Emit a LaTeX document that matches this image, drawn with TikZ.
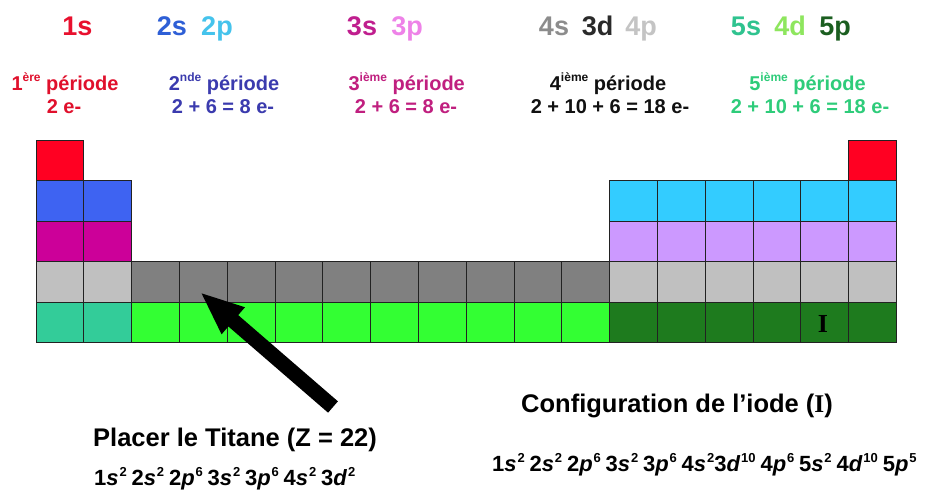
\documentclass[tikz,border=0pt]{standalone}
\usepackage{fontspec}
\setmainfont{Liberation Sans}
\newfontfamily\serifI{Liberation Serif}
\usetikzlibrary{arrows.meta}
\definecolor{cRed}{HTML}{FF0022}
\definecolor{cBlue}{HTML}{3E63F2}
\definecolor{cLBlue}{HTML}{33CCFF}
\definecolor{cMag}{HTML}{CC0099}
\definecolor{cLav}{HTML}{CC99FF}
\definecolor{cLGray}{HTML}{C0C0C0}
\definecolor{cGray}{HTML}{808080}
\definecolor{cTeal}{HTML}{33CC99}
\definecolor{cGreen}{HTML}{33FF33}
\definecolor{cDGreen}{HTML}{1E7B1E}
\definecolor{gridc}{HTML}{222222}
\definecolor{t1s}{HTML}{E8102E}
\definecolor{t2s}{HTML}{2E5FD6}
\definecolor{t2p}{HTML}{45C3EC}
\definecolor{t3s}{HTML}{C01E8E}
\definecolor{t3p}{HTML}{EE82E8}
\definecolor{t4s}{HTML}{8C8C8C}
\definecolor{t3d}{HTML}{2A2A2A}
\definecolor{t4p}{HTML}{C4C4C4}
\definecolor{t5s}{HTML}{2FC38F}
\definecolor{t4d}{HTML}{8EE65E}
\definecolor{t5p}{HTML}{1B5E20}
\definecolor{p1}{HTML}{E0102C}
\definecolor{p2}{HTML}{3B3BAE}
\definecolor{p3}{HTML}{C01F7F}
\definecolor{p4}{HTML}{111111}
\definecolor{p5}{HTML}{2ECC7A}
\newcommand\eorb[3]{#1\textit{#2}\kern0.04em\raisebox{0.4em}{\fontsize{13}{14}\selectfont #3}}
\newcommand\esp{\hspace{0.22em}}
\newcommand\psup[1]{\raisebox{0.42em}{\fontsize{12}{13}\selectfont #1}}
\begin{document}
\begin{tikzpicture}[x=1pt,y=-1pt,
  cell/.style={draw=gridc, line width=0.9pt, minimum width=47.8pt, minimum height=40.5pt, inner sep=0pt, outer sep=0pt, anchor=north west},
  orblab/.style={anchor=base, inner sep=0pt, font=\fontsize{27}{30}\selectfont\bfseries},
  perlab/.style={anchor=base, inner sep=0pt, font=\fontsize{20}{24}\selectfont\bfseries},
  bigtxt/.style={anchor=base west, inner sep=0pt, font=\fontsize{25.5}{30}\selectfont\bfseries},
  conftxt/.style={anchor=base west, inner sep=0pt, font=\fontsize{22}{26}\selectfont\bfseries}]
\useasboundingbox (0,0) rectangle (929,490);
\fill[white] (0,0) rectangle (929,490);
% row 1
\node[cell, fill=cRed] (r0-0) at (36,140) {};
\node[cell, fill=cRed] (r0-17) at ({36+47.8*17},140) {};
% row 2
\foreach \cc in {0,1} \node[cell, fill=cBlue] (r1-\cc) at ({36+47.8*\cc},{140+40.5}) {};
\foreach \cc in {12,...,17} \node[cell, fill=cLBlue] (r1-\cc) at ({36+47.8*\cc},{140+40.5}) {};
% row 3
\foreach \cc in {0,1} \node[cell, fill=cMag] (r2-\cc) at ({36+47.8*\cc},{140+81}) {};
\foreach \cc in {12,...,17} \node[cell, fill=cLav] (r2-\cc) at ({36+47.8*\cc},{140+81}) {};
% row 4
\foreach \cc in {0,1} \node[cell, fill=cLGray] (r3-\cc) at ({36+47.8*\cc},{140+121.5}) {};
\foreach \cc in {2,...,11} \node[cell, fill=cGray] (r3-\cc) at ({36+47.8*\cc},{140+121.5}) {};
\foreach \cc in {12,...,17} \node[cell, fill=cLGray] (r3-\cc) at ({36+47.8*\cc},{140+121.5}) {};
% row 5
\foreach \cc in {0,1} \node[cell, fill=cTeal] (r4-\cc) at ({36+47.8*\cc},{140+162}) {};
\foreach \cc in {2,...,11} \node[cell, fill=cGreen] (r4-\cc) at ({36+47.8*\cc},{140+162}) {};
\foreach \cc in {12,...,17} \node[cell, fill=cDGreen] (r4-\cc) at ({36+47.8*\cc},{140+162}) {};
% iodine
\node[font=\fontsize{26}{28}\selectfont\serifI\bfseries, text=black, inner sep=0pt] (iodine) at (823,324) {I};
% orbital labels
\node[orblab, text=t1s] (o1s) at (77.5,35) {1s};
\node[orblab, text=t2s] (o2s) at (172,35) {2s};
\node[orblab, text=t2p] (o2p) at (217,35) {2p};
\node[orblab, text=t3s] (o3s) at (362,35) {3s};
\node[orblab, text=t3p] (o3p) at (407,35) {3p};
\node[orblab, text=t4s] (o4s) at (554,35) {4s};
\node[orblab, text=t3d] (o3d) at (597.5,35) {3d};
\node[orblab, text=t4p] (o4p) at (641,35) {4p};
\node[orblab, text=t5s] (o5s) at (746,35) {5s};
\node[orblab, text=t4d] (o4d) at (790,35) {4d};
\node[orblab, text=t5p] (o5p) at (835,35) {5p};
% period labels
\node[perlab, text=p1] (per1) at (65,90) {1\psup{ère} période};
\node[perlab, text=p1] (ne1) at (64,113) {2 e-};
\node[perlab, text=p2] (per2) at (224,90) {2\psup{nde} période};
\node[perlab, text=p2] (ne2) at (223,113) {2 + 6 = 8 e-};
\node[perlab, text=p3] (per3) at (406.7,90) {3\psup{ième} période};
\node[perlab, text=p3] (ne3) at (406,113) {2 + 6 = 8 e-};
\node[perlab, text=p4] (per4) at (608,90) {4\psup{ième} période};
\node[perlab, text=p4] (ne4) at (610,113) {2 + 10 + 6 = 18 e-};
\node[perlab, text=p5] (per5) at (807.5,90) {5\psup{ième} période};
\node[perlab, text=p5] (ne5) at (810,113) {2 + 10 + 6 = 18 e-};
% arrow
\coordinate (arrS) at (333,407);
\coordinate (arrT) at (200,292);
\draw[line width=15pt, -{Triangle[length=44pt,width=32pt]}] (arrS) -- (arrT);
% bottom texts
\node[bigtxt] (titane) at (93,446) {Placer le Titane (Z = 22)};
\node[conftxt] (titconf) at (94,485) {\eorb{1}{s}{2}\esp\eorb{2}{s}{2}\esp\eorb{2}{p}{6}\esp\eorb{3}{s}{2}\esp\eorb{3}{p}{6}\esp\eorb{4}{s}{2}\esp\eorb{3}{d}{2}};
\node[bigtxt] (iode) at (521,412) {Configuration de l’iode ({\serifI I})};
\node[conftxt] (iodconf) at (492,471) {\eorb{1}{s}{2}\esp\eorb{2}{s}{2}\esp\eorb{2}{p}{6}\esp\eorb{3}{s}{2}\esp\eorb{3}{p}{6}\esp\eorb{4}{s}{2}\eorb{3}{d}{10}\esp\eorb{4}{p}{6}\esp\eorb{5}{s}{2}\esp\eorb{4}{d}{10}\esp\eorb{5}{p}{5}};
\end{tikzpicture}
\end{document}
